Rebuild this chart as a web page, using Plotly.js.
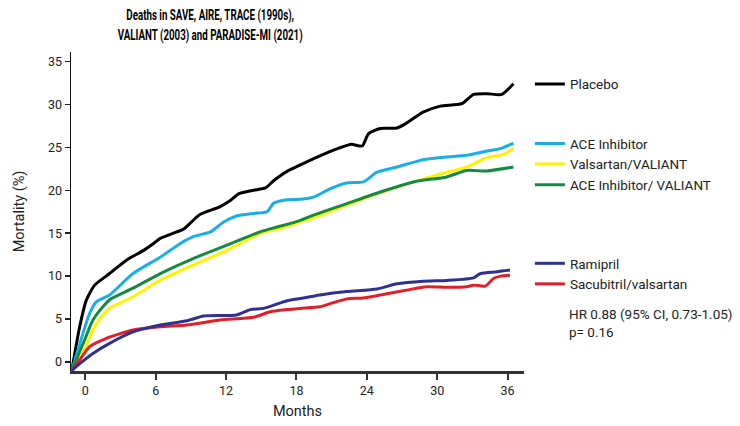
<!DOCTYPE html>
<html>
<head>
<meta charset="utf-8">
<script src="https://cdn.plot.ly/plotly-3.0.1.min.js"></script>
<style>
  body { margin: 0; background: #fff; }
  #chart { width: 740px; height: 426px; }
</style>
</head>
<body>
<div id="chart"></div>
<script>
// Cumulative mortality (%), by month
var placeboMonths = [-1.15, -0.48, 0.09, 0.8, 2.07, 3.5, 4.97, 5.82, 6.39, 7.8, 8.4, 9.2, 9.8, 11.5, 12.36, 13.1, 14.35, 15.35, 16.05, 17.2, 18.33, 20.0, 21.74, 22.7, 23.6, 24.15, 25.15, 26.57, 27.3, 28.8, 30.26, 32.1, 33.1, 34.25, 35.5, 36.5];
var placeboValues = [-1.0, 4.1, 7.2, 8.95, 10.3, 11.86, 13.0, 13.8, 14.4, 15.15, 15.5, 16.5, 17.2, 18.1, 18.8, 19.6, 20.0, 20.27, 21.1, 22.2, 22.95, 24.0, 24.96, 25.35, 25.15, 26.6, 27.2, 27.25, 27.75, 29.1, 29.8, 30.08, 31.16, 31.24, 31.16, 32.4];

var aceMonths = [-1.15, -0.2, 0.37, 0.94, 2.07, 2.64, 4.07, 6.39, 8.1, 9.2, 10.66, 11.8, 12.9, 14.35, 15.5, 16.05, 17.2, 18.33, 19.46, 20.9, 22.3, 23.7, 24.87, 26.57, 28.8, 30.8, 32.5, 34.25, 35.4, 36.5];
var aceValues = [-1.0, 3.33, 5.66, 7.0, 7.8, 8.5, 10.3, 12.2, 13.8, 14.6, 15.15, 16.3, 17.0, 17.3, 17.5, 18.5, 18.9, 18.95, 19.2, 20.2, 20.85, 20.97, 22.1, 22.7, 23.56, 23.87, 24.07, 24.57, 24.85, 25.5];

var valsartanMonths = [-1.15, -0.06, 0.65, 1.5, 2.13, 4.07, 6.39, 9.2, 12.08, 14.9, 16.6, 18.33, 19.46, 22.3, 25.15, 27.98, 30.8, 32.5, 34.25, 35.7, 36.5];
var valsartanValues = [-1.0, 1.4, 3.72, 5.47, 6.3, 7.6, 9.53, 11.28, 13.0, 14.96, 15.55, 16.3, 16.8, 18.26, 19.7, 20.97, 22.1, 22.7, 23.8, 24.2, 24.85];

var aceValiantMonths = [-1.15, -0.06, 0.65, 1.5, 2.13, 4.07, 6.39, 9.2, 12.08, 14.9, 16.6, 18.33, 19.46, 22.3, 25.15, 27.98, 30.8, 32.5, 34.25, 36.5];
var aceValiantValues = [-1.0, 2.56, 4.88, 6.43, 7.3, 8.6, 10.3, 12.05, 13.6, 15.15, 15.8, 16.5, 17.1, 18.45, 19.8, 20.97, 21.55, 22.3, 22.25, 22.7];

var ramiprilMonths = [-1.15, -0.48, 0.65, 2.07, 4.07, 6.39, 8.67, 10.08, 12.9, 14.07, 15.2, 17.2, 18.33, 20.0, 22.3, 24.87, 26.57, 28.8, 30.8, 33.1, 33.7, 35.1, 36.2];
var ramiprilValues = [-1.0, -0.2, 1.0, 2.17, 3.5, 4.3, 4.8, 5.35, 5.47, 6.1, 6.24, 7.13, 7.4, 7.8, 8.2, 8.5, 9.1, 9.4, 9.5, 9.8, 10.3, 10.5, 10.7];

var sacubitrilMonths = [-1.15, -0.48, 0.37, 1.8, 4.07, 6.39, 8.67, 11.5, 14.35, 15.77, 17.2, 18.33, 20.0, 20.9, 22.3, 23.7, 25.15, 27.4, 29.1, 30.8, 32.5, 33.1, 34.1, 34.8, 35.4, 36.2];
var sacubitrilValues = [-1.0, 0.23, 1.78, 2.75, 3.72, 4.1, 4.3, 4.88, 5.2, 5.85, 6.1, 6.24, 6.43, 6.8, 7.35, 7.45, 7.8, 8.37, 8.76, 8.7, 8.76, 8.95, 8.84, 9.73, 10.0, 10.1];

var monthTicks = [0, 6, 12, 18, 24, 30, 36];
var mortalityTicks = [0, 5, 10, 15, 20, 25, 30, 35];

var font = 'Roboto, Liberation Sans, sans-serif';

function curve(name, x, y, color, legend, rank) {
  return {
    x: x, y: y, name: name, legend: legend, legendrank: rank,
    mode: 'lines', type: 'scatter',
    line: { color: color, width: 3, shape: 'spline', smoothing: 0.6 },
    hoverinfo: 'skip'
  };
}

// red drawn before dark blue so Ramipril sits on top, as in the reference
var data = [
  curve('Placebo', placeboMonths, placeboValues, '#000000', 'legend', 1),
  curve('ACE Inhibitor', aceMonths, aceValues, '#1aaee6', 'legend2', 2),
  curve('Valsartan/VALIANT', valsartanMonths, valsartanValues, '#fff200', 'legend2', 3),
  curve('ACE Inhibitor/ VALIANT', aceValiantMonths, aceValiantValues, '#168a43', 'legend2', 4),
  curve('Sacubitril/valsartan', sacubitrilMonths, sacubitrilValues, '#e31e26', 'legend3', 6),
  curve('Ramipril', ramiprilMonths, ramiprilValues, '#2e3192', 'legend3', 5)
];

var legendBase = {
  xanchor: 'left', yanchor: 'middle', x: 1.013,
  bgcolor: 'rgba(0,0,0,0)', font: { family: font, size: 13.5, color: '#222' },
  traceorder: 'normal'
};

var layout = {
  width: 740, height: 426,
  showlegend: true,
  margin: { l: 71, r: 216, t: 52, b: 55 },
  paper_bgcolor: '#fff', plot_bgcolor: '#fff',
  font: { family: font, size: 12.5, color: '#222' },
  title: {
    text: 'Deaths in SAVE, AIRE, TRACE (1990s),<br>VALIANT (2003) and PARADISE-MI (2021)',
    font: { family: font, size: 15, color: '#000', weight: 'bold' },
    xref: 'container', x: 0.284, xanchor: 'center',
    yref: 'container', y: 0.952, yanchor: 'middle'
  },
  xaxis: {
    range: [-1.22, 37.4], tickvals: monthTicks,
    ticks: 'outside', ticklen: 6, tickwidth: 2, tickcolor: '#333',
    showline: true, linecolor: '#333', linewidth: 2.5,
    showgrid: false, zeroline: false,
    title: { text: 'Months', font: { size: 14.5 }, standoff: 10 }
  },
  yaxis: {
    range: [-1.05, 36.1], tickvals: mortalityTicks,
    ticks: 'outside', ticklen: 5, tickwidth: 1.5, tickcolor: '#222',
    showline: true, linecolor: '#111', linewidth: 1.5,
    showgrid: false, zeroline: false,
    title: { text: 'Mortality (%)', font: { size: 14.5 }, standoff: 20 }
  },
  legend: Object.assign({}, legendBase, { y: 0.899 }),
  legend2: Object.assign({}, legendBase, { y: 0.648 }),
  legend3: Object.assign({}, legendBase, { y: 0.304 }),
  annotations: [{
    xref: 'paper', yref: 'paper', x: 1.095, y: 0.150,
    xanchor: 'left', yanchor: 'middle', align: 'left', showarrow: false,
    text: 'HR 0.88 (95% CI, 0.73-1.05)<br>p= 0.16',
    font: { family: font, size: 13.5, color: '#222' }
  }]
};

var gd = document.getElementById('chart');
Plotly.newPlot(gd, data, layout, { displayModeBar: false, staticPlot: true }).then(function () {
  // the reference title is set in a condensed face; squeeze the lines to match
  gd.querySelectorAll('.gtitle tspan.line').forEach(function (t) {
    var w = t.getComputedTextLength();
    t.setAttribute('textLength', w * 0.65);
    t.setAttribute('lengthAdjust', 'spacingAndGlyphs');
  });
});
</script>
</body>
</html>
